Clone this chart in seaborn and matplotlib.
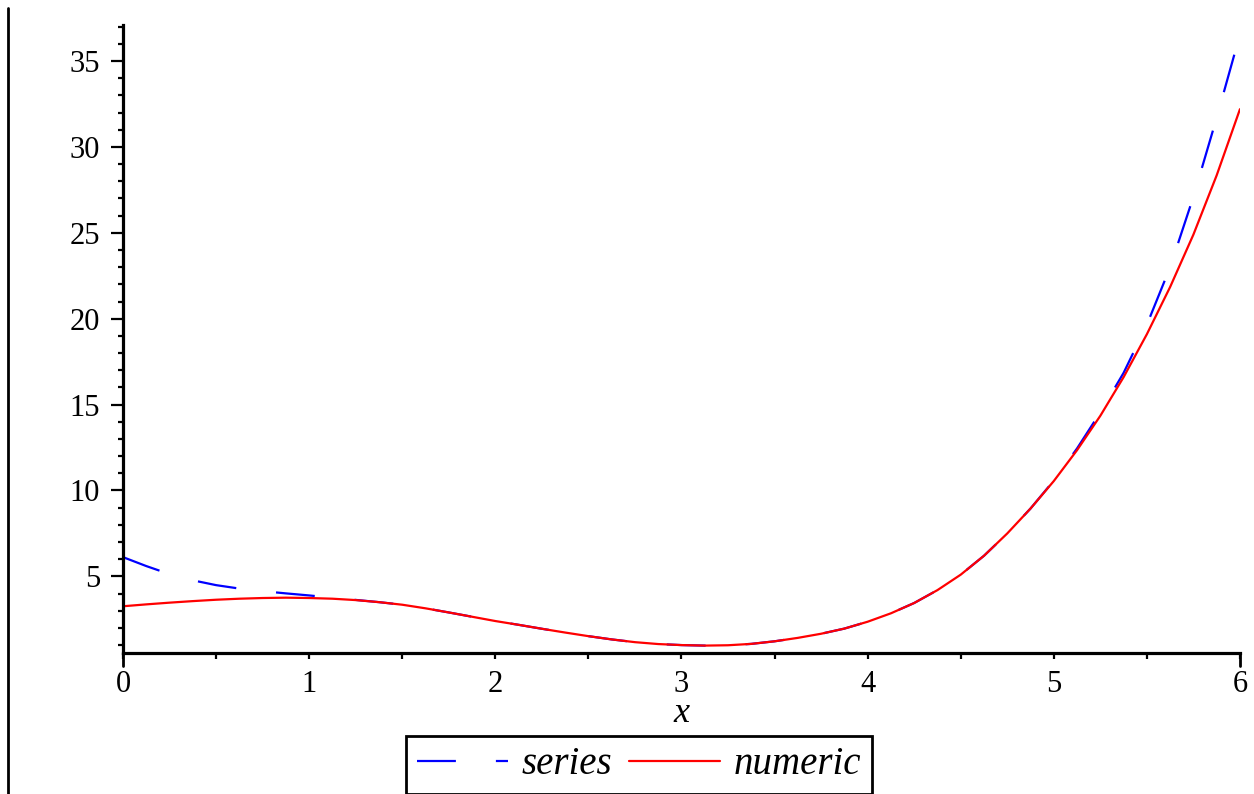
import numpy as np
import pandas as pd
import matplotlib.pyplot as plt
import seaborn as sns
from matplotlib.lines import Line2D
from matplotlib.ticker import MultipleLocator

# values
x_vals = [0.0, 0.125, 0.25, 0.375, 0.5, 0.625, 0.75, 0.875, 1.0, 1.125, 1.25,
          1.375, 1.5, 1.625, 1.75, 1.875, 2.0, 2.125, 2.25, 2.375, 2.5, 2.625,
          2.75, 2.875, 3.0, 3.125, 3.25, 3.375, 3.5, 3.625, 3.75, 3.875, 4.0,
          4.125, 4.25, 4.375, 4.5, 4.625, 4.75, 4.875, 5.0, 5.125, 5.25,
          5.375, 5.5, 5.625, 5.75, 5.875, 6.0]
numeric_y = [3.26, 3.37, 3.47, 3.56, 3.64, 3.70, 3.74, 3.76, 3.74, 3.70, 3.62,
             3.50, 3.35, 3.14, 2.90, 2.65, 2.40, 2.18, 1.95, 1.73, 1.52, 1.33,
             1.17, 1.06, 1.00, 0.97, 0.99, 1.07, 1.22, 1.42, 1.66, 1.96, 2.36,
             2.85, 3.45, 4.20, 5.10, 6.20, 7.50, 8.95, 10.55, 12.35, 14.35,
             16.60, 19.10, 21.85, 24.90, 28.35, 32.20]
series_y = [6.12, 5.60, 5.13, 4.77, 4.49, 4.29, 4.14, 4.01, 3.89, 3.76, 3.63,
            3.50, 3.35, 3.14, 2.90, 2.65, 2.40, 2.18, 1.95, 1.73, 1.52, 1.33,
            1.17, 1.06, 1.00, 0.97, 0.99, 1.07, 1.22, 1.42, 1.66, 1.96, 2.36,
            2.85, 3.45, 4.20, 5.10, 6.20, 7.50, 8.95, 10.58, 12.45, 14.55,
            16.85, 19.65, 23.00, 27.10, 31.70, 36.55]

sns.set_style('ticks')
plt.rcParams['font.family'] = ['Liberation Serif', 'DejaVu Serif']
plt.rcParams.update({'text.color': 'black', 'axes.edgecolor': 'black',
                     'xtick.color': 'black', 'ytick.color': 'black',
                     'axes.labelcolor': 'black'})

fig = plt.figure(figsize=(12.54, 7.94), dpi=100)
ax = fig.add_axes([0.0981, 0.1776, 0.8907, 0.7909])

sns.lineplot(x=x_vals, y=series_y, ax=ax, color='blue', lw=1.6,
             linestyle=(0, (17.5, 18)), label='series')
sns.lineplot(x=x_vals, y=numeric_y, ax=ax, color='red', lw=1.6,
             label='numeric')

ax.set_xlim(0, 6)
ax.set_ylim(0.54, 37.1)
sns.despine(ax=ax)
for side in ['left', 'bottom']:
    ax.spines[side].set_linewidth(2.3)
    ax.spines[side].set_color('black')

ax.xaxis.set_major_locator(MultipleLocator(1))
ax.xaxis.set_minor_locator(MultipleLocator(0.5))
ax.yaxis.set_major_locator(MultipleLocator(5))
ax.yaxis.set_minor_locator(MultipleLocator(1))
ax.tick_params(axis='x', which='both', length=4, width=1.6, labelsize=22,
               pad=8, colors='black')
ax.tick_params(axis='y', which='major', length=8.5, width=1.6, labelsize=22,
               pad=8, colors='black')
ax.tick_params(axis='y', which='minor', length=3.6, width=1.6, colors='black')

# end caps of the x axis
ax.axvline(0, ymin=-0.021, ymax=0, color='black', lw=2, clip_on=False)
ax.axvline(6, ymin=-0.021, ymax=0, color='black', lw=2, clip_on=False)

ax.set_xlabel('x', fontstyle='italic', fontsize=26, color='black')
ax.xaxis.set_label_coords(0.5, -0.07)
ax.set_ylabel('')

handles, labels = ax.get_legend_handles_labels()
leg = ax.legend(handles, labels, loc='center', ncol=2,
                bbox_to_anchor=(639 / 1254, 1 - 765 / 794),
                bbox_transform=fig.transFigure,
                prop={'style': 'italic', 'size': 28},
                handlelength=2.34, handletextpad=0.35, columnspacing=0.45,
                borderpad=0.28, fancybox=False, framealpha=1, edgecolor='black')
leg.get_frame().set_linewidth(2)
for t in leg.get_texts():
    t.set_color('black')

# border line on the left edge
fig.add_artist(Line2D([8 / 1254, 8 / 1254], [0, 1 - 8 / 794], color='black', lw=2))

fig.savefig('out.png', dpi=100)
